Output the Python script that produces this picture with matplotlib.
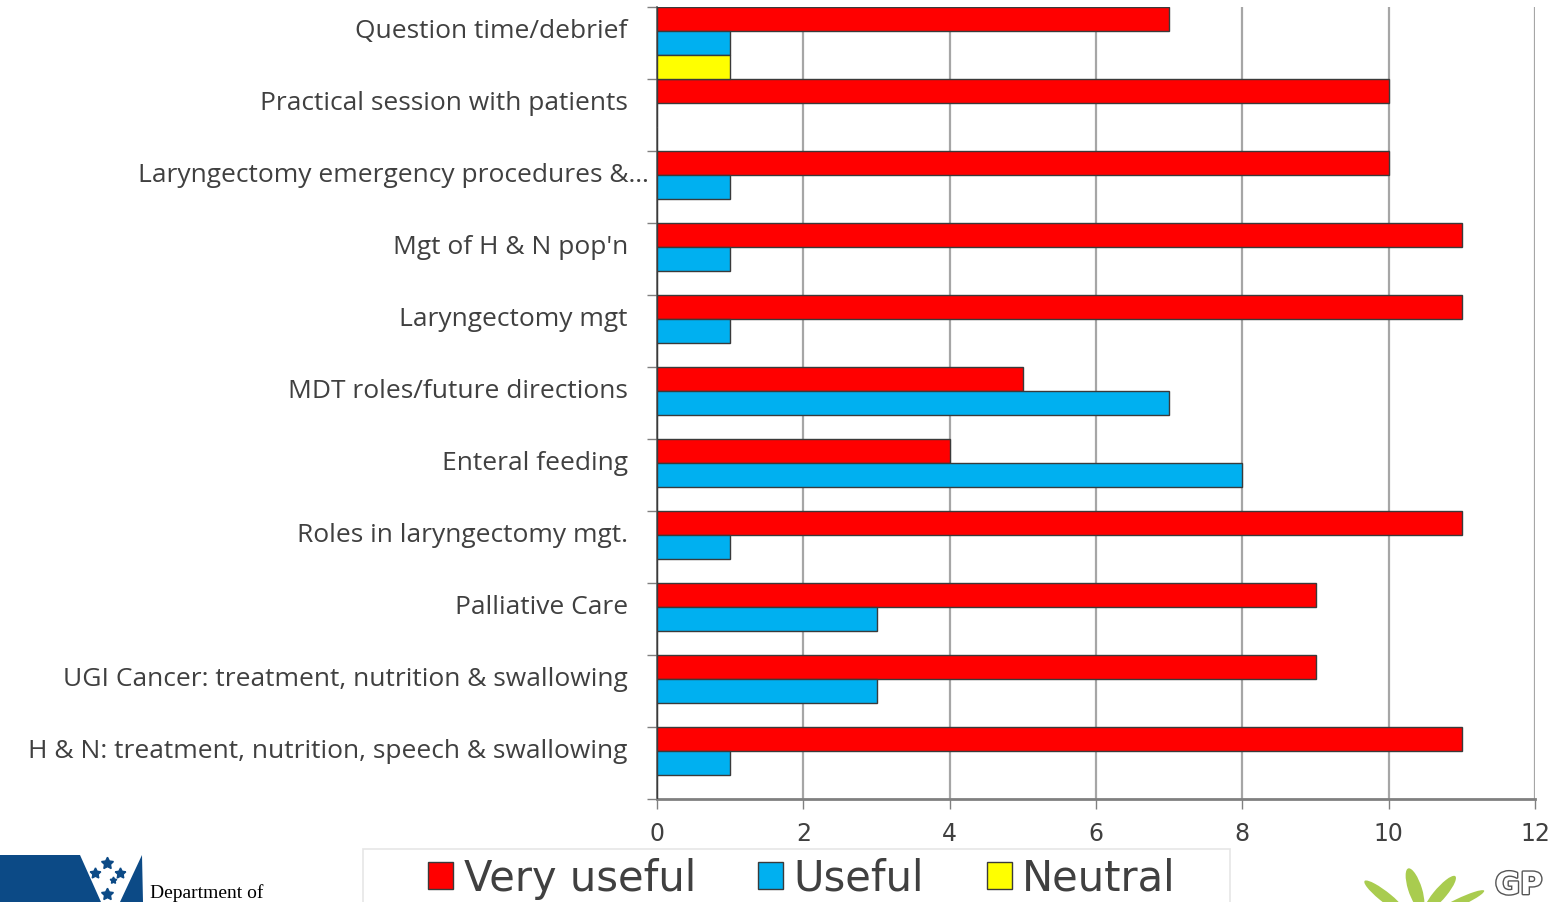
import matplotlib
matplotlib.use("Agg")
import matplotlib.pyplot as plt
from matplotlib.patches import Patch, Rectangle, Polygon, Ellipse
import matplotlib.patheffects as pe
import numpy as np

# ── data (top to bottom, as shown) ───────────────────────────────────────────
categories = [
    "Question time/debrief",
    "Practical session with patients",
    "Laryngectomy emergency procedures &…",
    "Mgt of H & N pop'n",
    "Laryngectomy mgt",
    "MDT roles/future directions",
    "Enteral feeding",
    "Roles in laryngectomy mgt.",
    "Palliative Care",
    "UGI Cancer: treatment, nutrition & swallowing",
    "H & N: treatment, nutrition, speech & swallowing",
]
very_useful = [7, 10, 10, 11, 11, 5, 4, 11, 9, 9, 11]
useful = [1, 0, 1, 1, 1, 7, 8, 1, 3, 3, 1]
neutral = [1, 0, 0, 0, 0, 0, 0, 0, 0, 0, 0]
series_names = ["Very useful", "Useful", "Neutral"]
series_colors = ["#ff0000", "#00b0f0", "#ffff00"]
x_ticks = [0, 2, 4, 6, 8, 10, 12]

W, H = 1567, 903
fig = plt.figure(figsize=(W / 100, H / 100), dpi=100)
ax = fig.add_axes([657 / W, 1 - 800 / H, (1535 - 657) / W, (800 - 8) / H])

n = len(categories)
base = np.arange(n)
bar_h = 1 / 3
for k, (vals, col) in enumerate(zip([very_useful, useful, neutral], series_colors)):
    ax.barh(base + bar_h * (k + 0.5), vals, height=bar_h, color=col,
            edgecolor="#3a3a3a", linewidth=1.0, zorder=3)

ax.set_xlim(0, 12)
ax.set_ylim(n, 0)
ax.set_xticks(x_ticks)
ax.set_xticklabels([str(t) for t in x_ticks], fontsize=17, color="#404040",
                   family=["Liberation Sans Narrow", "DejaVu Sans"])
ax.tick_params(axis="x", length=7, width=1, color="#808080", pad=9)
ax.grid(axis="x", color="#a6a6a6", linewidth=1.6, zorder=0)

# category boundaries get tick marks; labels sit on minor ticks
ax.set_yticks(np.arange(n + 1))
ax.set_yticklabels([])
ax.tick_params(axis="y", which="major", length=7, width=1, color="#808080")
ax.set_yticks(base + 0.28, minor=True)
ax.set_yticklabels(categories, minor=True, fontsize=19, color="#404040",
                   family=["Open Sans", "DejaVu Sans"])
ax.tick_params(axis="y", which="minor", length=0, pad=21)
ax.yaxis.get_minor_ticks()[2].set_pad(6)

for s in ["top", "right"]:
    ax.spines[s].set_visible(False)
ax.spines["left"].set_color("#595959")
ax.spines["left"].set_linewidth(1.2)
ax.spines["bottom"].set_color("#808080")
ax.spines["bottom"].set_linewidth(2)

# legend, framed by a light box that runs off the slide
fig.patches.append(Rectangle((363 / W, -0.02), (1230 - 363) / W, (0.02 + 1 - 850 / H),
                             transform=fig.transFigure, facecolor="white",
                             edgecolor="#e6e6e6", linewidth=1.2))
handles = [Patch(facecolor=c, edgecolor="#3a3a3a", linewidth=1.0) for c in series_colors]
fig.legend(handles, series_names, loc="center", bbox_to_anchor=(802 / W, 1 - 879 / H),
           ncol=3, frameon=False, fontsize=30, handlelength=0.6, handleheight=0.6,
           handletextpad=0.25, columnspacing=1.5, borderpad=0, labelcolor="#404040")

# left logo (partly cut off)
blue = "#0c4a86"
for pts in ([(0, 856), (80, 856), (101, 903), (0, 903)],
            [(142, 856), (143, 903), (120, 903)]):
    fig.patches.append(Polygon([(x / W, 1 - y / H) for x, y in pts], closed=True,
                               transform=fig.transFigure, facecolor=blue, edgecolor="none"))
for sx, sy, ss in [(107, 864, 9), (95, 874, 8), (120, 874, 8), (113, 881, 5), (107, 895, 9)]:
    fig.lines.append(plt.Line2D([sx / W], [1 - sy / H], marker=(5, 1), markersize=ss,
                                color=blue, transform=fig.transFigure))
fig.text(150 / W, 1 - 884 / H, "Department of", family="Liberation Serif", fontsize=14,
         color="black", va="top")

# right logo (partly cut off)
for cx, cy, w, h, ang in [(1385, 898, 14, 40, 35), (1415, 890, 14, 42, 10),
                          (1440, 895, 14, 40, -25), (1460, 903, 12, 36, -50)]:
    fig.patches.append(Ellipse((cx / W, 1 - cy / H), w / W, h / H, angle=ang,
                               transform=fig.transFigure, facecolor="#a9cc4f", edgecolor="none"))
fig.text(1495 / W, 1 - 872 / H, "GP", fontsize=22, color="white", va="top",
         fontweight="bold", path_effects=[pe.withStroke(linewidth=2, foreground="#555555")])

fig.savefig("out.png", dpi=100)
